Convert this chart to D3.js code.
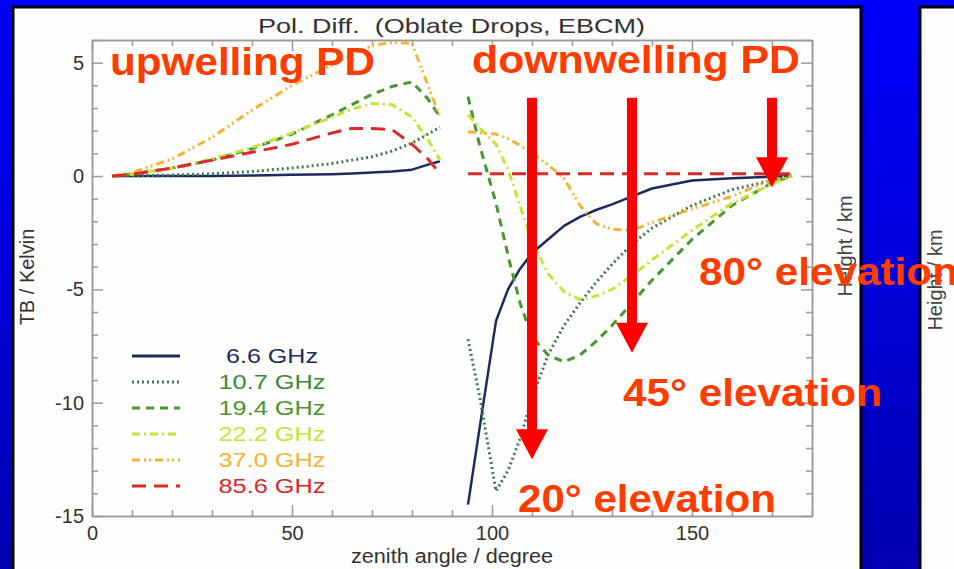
<!DOCTYPE html>
<html>
<head>
<meta charset="utf-8">
<script src="https://cdn.jsdelivr.net/npm/d3@7"></script>
<style>
  html, body { margin: 0; padding: 0; background: #0000ff; }
  svg { display: block; font-family: "Liberation Sans", Arial, sans-serif; }
</style>
</head>
<body>
<svg id="chart" width="954" height="569"></svg>
<script>
// zenith angles of the two branches
const upAngles = [5, 10, 20, 30, 40, 50, 60, 65, 70, 75, 80, 84, 87];
const downAngles = [94, 97, 101, 104, 107, 110, 114, 118, 122, 126, 130, 135, 140, 150, 160, 170, 175];

const freqs = ["6.6 GHz", "10.7 GHz", "19.4 GHz", "22.2 GHz", "37.0 GHz", "85.6 GHz"];

const up66 = [0, 0, 0, 0, 0.02, 0.05, 0.08, 0.11, 0.15, 0.2, 0.28, 0.5, 0.65];
const up107 = [0, 0.01, 0.04, 0.1, 0.2, 0.35, 0.55, 0.7, 0.85, 1.1, 1.45, 1.85, 2.15];
const up194 = [0, 0.08, 0.35, 0.7, 1.2, 1.85, 2.7, 3.15, 3.6, 3.95, 4.15, 3.4, 2.6];
const up222 = [0, 0.08, 0.35, 0.75, 1.25, 1.9, 2.6, 2.95, 3.2, 3.15, 2.6, 1.6, 0.7];
const up370 = [0, 0.15, 0.75, 1.7, 2.9, 4.0, 4.9, 5.35, 5.75, 5.9, 5.85, 4.0, 2.6];
const up856 = [0, 0.08, 0.35, 0.7, 1.05, 1.4, 1.9, 2.1, 2.1, 2.05, 1.4, 0.75, 0.1];

const down66 = [-14.5, -11.0, -6.4, -5.0, -4.1, -3.4, -2.8, -2.2, -1.8, -1.5, -1.25, -0.9, -0.55, -0.2, -0.1, -0.03, 0];
const down107 = [-7.2, -9.8, -13.9, -13.0, -11.6, -9.8, -7.9, -6.6, -5.6, -4.7, -3.9, -3.0, -2.3, -1.3, -0.6, -0.2, 0];
const down194 = [3.5, 1.3, -1.2, -3.5, -5.6, -7.1, -7.9, -8.2, -7.9, -7.3, -6.6, -5.6, -4.6, -2.8, -1.3, -0.3, 0];
const down222 = [2.7, 2.1, 1.4, 0.3, -1.3, -2.9, -4.3, -5.1, -5.45, -5.3, -5.0, -4.4, -3.7, -2.4, -1.2, -0.35, 0];
const down370 = [1.95, 1.9, 1.85, 1.65, 1.35, 1.0, 0.5, -0.1, -1.3, -2.1, -2.35, -2.4, -2.05, -1.45, -0.9, -0.15, 0];
const down856 = [0.1, 0.1, 0.1, 0.1, 0.1, 0.1, 0.1, 0.1, 0.1, 0.1, 0.1, 0.1, 0.1, 0.1, 0.1, 0.1, 0.1];

const xTicks = [0, 50, 100, 150];
const yTicks = [5, 0, -5, -10, -15];

// annotation arrows: zenith angle, value at the tip
const arrowAngles = [110, 135, 170];
const arrowTips = [-12.5, -7.8, -0.5];
const arrowTop = 3.45;

const upSeries = [up66, up107, up194, up222, up370, up856];
const downSeries = [down66, down107, down194, down222, down370, down856];

const lineColors = ["#1c2b5e", "#3d7a55", "#4a9632", "#c6e33a", "#f0b43c", "#dc2a2a"];
const textColors = ["#1c2b5e", "#3a8a3a", "#4a9632", "#c6e33a", "#f0b43c", "#d42a2a"];
const dashes = [null, "2,3", "8,6", "8,4,2,4", "8,4,2,3,2,4", "14,8"];

const svg = d3.select("#chart");

// blue slide background
const defs = svg.append("defs");
const grad = defs.append("linearGradient").attr("id", "bg").attr("x1", 0).attr("y1", 0).attr("x2", 0).attr("y2", 1);
grad.append("stop").attr("offset", "0%").attr("stop-color", "#0000ff");
grad.append("stop").attr("offset", "100%").attr("stop-color", "#0000b0");
svg.append("rect").attr("width", 954).attr("height", 569).attr("fill", "url(#bg)");

// white panels
svg.append("rect").attr("x", 13).attr("y", 7).attr("width", 848).attr("height", 575)
  .attr("fill", "#fdfdfb").attr("stroke", "#000").attr("stroke-width", 3);
svg.append("rect").attr("x", 920).attr("y", 7).attr("width", 60).attr("height", 575)
  .attr("fill", "#fdfdfb").attr("stroke", "#000").attr("stroke-width", 3);

const margin = { top: 40, left: 92, right: 812, bottom: 516 };
const x = d3.scaleLinear().domain([0, 180]).range([margin.left, margin.right]);
const y = d3.scaleLinear().domain([-15, 6]).range([margin.bottom, margin.top]);

defs.append("clipPath").attr("id", "plotclip").append("rect")
  .attr("x", margin.left).attr("y", margin.top)
  .attr("width", margin.right - margin.left).attr("height", margin.bottom - margin.top);

// axes, IDL style: ticks on all four sides pointing inward
const axisColor = "#9a9a9a";
const minorX = d3.range(0, 181, 10).filter(d => !xTicks.includes(d));
const minorY = d3.range(-15, 7, 1).filter(d => !yTicks.includes(d));

function styleAxis(g) {
  g.selectAll(".domain").attr("stroke", axisColor).attr("stroke-width", 1.5);
  g.selectAll(".tick line").attr("stroke", axisColor).attr("stroke-width", 1.5);
}

const bottom = svg.append("g").attr("transform", `translate(0,${margin.bottom})`)
  .call(d3.axisBottom(x).tickValues(xTicks).tickSize(-11).tickPadding(10).tickSizeOuter(0));
bottom.call(styleAxis);
bottom.selectAll(".tick text").attr("font-size", 20).attr("fill", "#333")
  .attr("font-family", "Liberation Sans, Arial, sans-serif");
svg.append("g").attr("transform", `translate(0,${margin.bottom})`)
  .call(d3.axisBottom(x).tickValues(minorX).tickSize(-6).tickFormat("").tickSizeOuter(0)).call(styleAxis);

svg.append("g").attr("transform", `translate(0,${margin.top})`)
  .call(d3.axisTop(x).tickValues(xTicks).tickSize(-11).tickFormat("").tickSizeOuter(0)).call(styleAxis);
svg.append("g").attr("transform", `translate(0,${margin.top})`)
  .call(d3.axisTop(x).tickValues(minorX).tickSize(-6).tickFormat("").tickSizeOuter(0)).call(styleAxis);

const left = svg.append("g").attr("transform", `translate(${margin.left},0)`)
  .call(d3.axisLeft(y).tickValues(yTicks).tickFormat(d => String(d)).tickSize(-11).tickPadding(8).tickSizeOuter(0));
left.call(styleAxis);
left.selectAll(".tick text").attr("font-size", 20).attr("fill", "#333")
  .attr("font-family", "Liberation Sans, Arial, sans-serif");
svg.append("g").attr("transform", `translate(${margin.left},0)`)
  .call(d3.axisLeft(y).tickValues(minorY).tickSize(-6).tickFormat("").tickSizeOuter(0)).call(styleAxis);

svg.append("g").attr("transform", `translate(${margin.right},0)`)
  .call(d3.axisRight(y).tickValues(yTicks).tickSize(-11).tickFormat("").tickSizeOuter(0)).call(styleAxis);
svg.append("g").attr("transform", `translate(${margin.right},0)`)
  .call(d3.axisRight(y).tickValues(minorY).tickSize(-6).tickFormat("").tickSizeOuter(0)).call(styleAxis);

// curves
const line = d3.line().x(d => x(d[0])).y(d => y(d[1]));
const plot = svg.append("g").attr("clip-path", "url(#plotclip)");
freqs.forEach((f, i) => {
  [[upAngles, upSeries[i]], [downAngles, downSeries[i]]].forEach(([angles, vals]) => {
    plot.append("path")
      .datum(angles.map((a, k) => [a, vals[k]]))
      .attr("d", line)
      .attr("fill", "none")
      .attr("stroke", lineColors[i])
      .attr("stroke-width", i === 0 ? 2.5 : 3)
      .attr("stroke-dasharray", dashes[i])
      .attr("stroke-linejoin", "round");
  });
});

// legend
const legend = svg.append("g");
freqs.forEach((f, i) => {
  const ly = 356 + i * 26;
  legend.append("line").attr("x1", 132).attr("x2", 180).attr("y1", ly).attr("y2", ly)
    .attr("stroke", lineColors[i]).attr("stroke-width", 3).attr("stroke-dasharray", dashes[i]);
  legend.append("text").attr("x", 272).attr("y", ly + 7).attr("text-anchor", "middle")
    .attr("font-size", 20).attr("fill", textColors[i])
    .attr("textLength", f.length === 7 ? 92 : 107).attr("lengthAdjust", "spacingAndGlyphs")
    .text(f);
});

// titles and axis labels
svg.append("text").attr("x", 258).attr("y", 33).attr("font-size", 21).attr("fill", "#333")
  .style("white-space", "pre")
  .attr("textLength", 387).attr("lengthAdjust", "spacingAndGlyphs")
  .text("Pol. Diff.  (Oblate Drops, EBCM)");
svg.append("text").attr("x", 351).attr("y", 563).attr("font-size", 20).attr("fill", "#333")
  .attr("textLength", 202).attr("lengthAdjust", "spacingAndGlyphs")
  .text("zenith angle / degree");
svg.append("text").attr("transform", "translate(34,277) rotate(-90)").attr("text-anchor", "middle")
  .attr("font-size", 20).attr("fill", "#333").text("TB / Kelvin");
svg.append("text").attr("transform", "translate(852,246) rotate(-90)").attr("text-anchor", "middle")
  .attr("font-size", 20).attr("fill", "#444").text("Height / km");
svg.append("text").attr("transform", "translate(942,280) rotate(-90)").attr("text-anchor", "middle")
  .attr("font-size", 20).attr("fill", "#444").text("Height / km");

// red arrows
const arrows = svg.append("g").attr("fill", "#ff0000");
arrowAngles.forEach((a, i) => {
  const ax = x(a);
  const tip = y(arrowTips[i]);
  arrows.append("rect").attr("x", ax - 5).attr("y", y(arrowTop)).attr("width", 10).attr("height", tip - 30 - y(arrowTop) + 1);
  arrows.append("path").attr("d", `M${ax - 16},${tip - 30} L${ax + 16},${tip - 30} L${ax},${tip} Z`);
});

// red annotations
const notes = [
  { t: "upwelling PD", x: 110, y: 75, w: 265 },
  { t: "downwelling PD", x: 472, y: 73, w: 328 },
  { t: "80° elevation", x: 699, y: 285, w: 259 },
  { t: "45° elevation", x: 623, y: 406, w: 259 },
  { t: "20° elevation", x: 518, y: 512, w: 258 }
];
svg.append("g").selectAll("text").data(notes).join("text")
  .attr("x", d => d.x).attr("y", d => d.y)
  .attr("font-size", 38).attr("font-weight", "bold").attr("fill", "#ff3c00")
  .attr("textLength", d => d.w).attr("lengthAdjust", "spacingAndGlyphs")
  .text(d => d.t);
</script>
</body>
</html>
